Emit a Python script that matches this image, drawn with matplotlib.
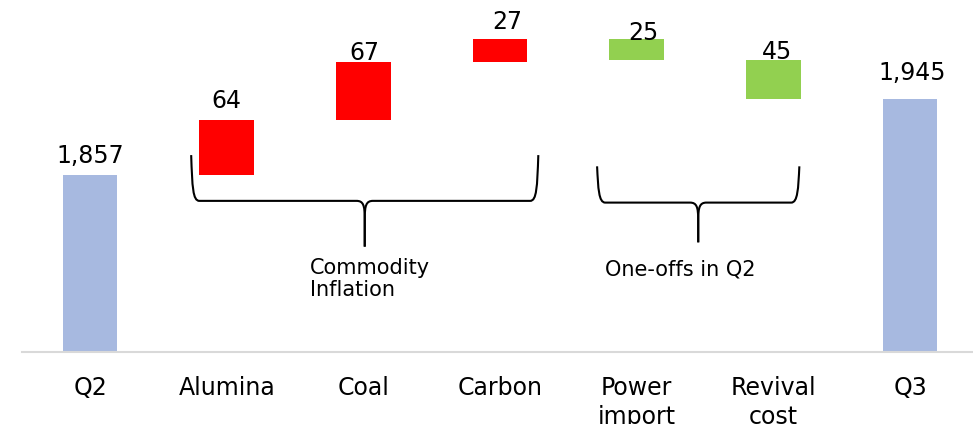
import numpy as np
import matplotlib.pyplot as plt
from matplotlib.path import Path
from matplotlib.patches import PathPatch

# waterfall data
categories = ['Q2', 'Alumina', 'Coal', 'Carbon', 'Power\nimport', 'Revival\ncost', 'Q3']
start_value = 1857
deltas = [64, 67, 27, -25, -45]
end_value = 1945
labels = ['1,857', '64', '67', '27', '25', '45', '1,945']

blue = '#A7B9E0'
red = '#FF0000'
green = '#92D050'

# build bottoms / heights from the running total
bottoms = [0]
heights = [start_value]
colors = [blue]
running = start_value
for d in deltas:
    bottoms.append(min(running, running + d))
    heights.append(abs(d))
    colors.append(red if d > 0 else green)
    running += d
bottoms.append(0)
heights.append(end_value)
colors.append(blue)

bottoms = np.array(bottoms)
heights = np.array(heights)
x = np.arange(len(categories))

plt.rcParams['font.family'] = 'DejaVu Sans'
fig = plt.figure(figsize=(9.73, 4.24), dpi=100)
ax = fig.add_axes([21.7 / 973, 72 / 424, 956.7 / 973, 352 / 424])

ax.bar(x, heights, bottom=bottoms, width=0.4, color=colors)

# value labels (Excel places them a bit irregularly)
label_dy = [12, 12, 2, 10, -1, 1, 19]
label_dx = [0, 0, 1, 7, 7, 4, 2]
for i in range(len(x)):
    top = bottoms[i] + heights[i]
    ax.annotate(labels[i], (x[i], top), xytext=(label_dx[i] * 0.72, label_dy[i] * 0.72),
                textcoords='offset points', ha='center', va='baseline', fontsize=17)

ax.set_xlim(-0.5, 6.5)
ax.set_ylim(1652, 2059.6)
ax.set_xticks(x)
ax.set_xticklabels(categories, fontsize=17, linespacing=1.27)
ax.tick_params(axis='x', length=0, pad=17)
ax.set_yticks([])
for s in ['top', 'right', 'left']:
    ax.spines[s].set_visible(False)
ax.spines['bottom'].set_color('#D9D9D9')
ax.spines['bottom'].set_linewidth(1.5)


def draw_brace(ax, x0, x1, xm, ytop, ymid, ytip):
    rx = 0.06
    for xe, s in [(x0, 1), (x1, -1)]:
        verts = [(xe, ytop),
                 (xe + s * 0.008, ymid + 16), (xe + s * 0.012, ymid), (xe + s * rx, ymid),
                 (xm - s * rx, ymid),
                 (xm - s * 0.012, ymid), (xm, ymid - 5), (xm, ymid - 20),
                 (xm, ytip)]
        codes = [Path.MOVETO, Path.CURVE4, Path.CURVE4, Path.CURVE4, Path.LINETO,
                 Path.CURVE4, Path.CURVE4, Path.CURVE4, Path.LINETO]
        ax.add_patch(PathPatch(Path(verts, codes), fill=False, lw=1.5, color='black',
                               capstyle='butt', joinstyle='round', clip_on=False))


draw_brace(ax, 0.74, 3.28, 2.01, 1880, 1827, 1774)
draw_brace(ax, 3.71, 5.19, 4.45, 1867, 1825, 1779)

ax.text(1.61, 1761, 'Commodity\nInflation', ha='left', va='top', fontsize=15, linespacing=1.15)
ax.text(3.77, 1759, 'One-offs in Q2', ha='left', va='top', fontsize=15)

plt.savefig('out.png', dpi=100)
